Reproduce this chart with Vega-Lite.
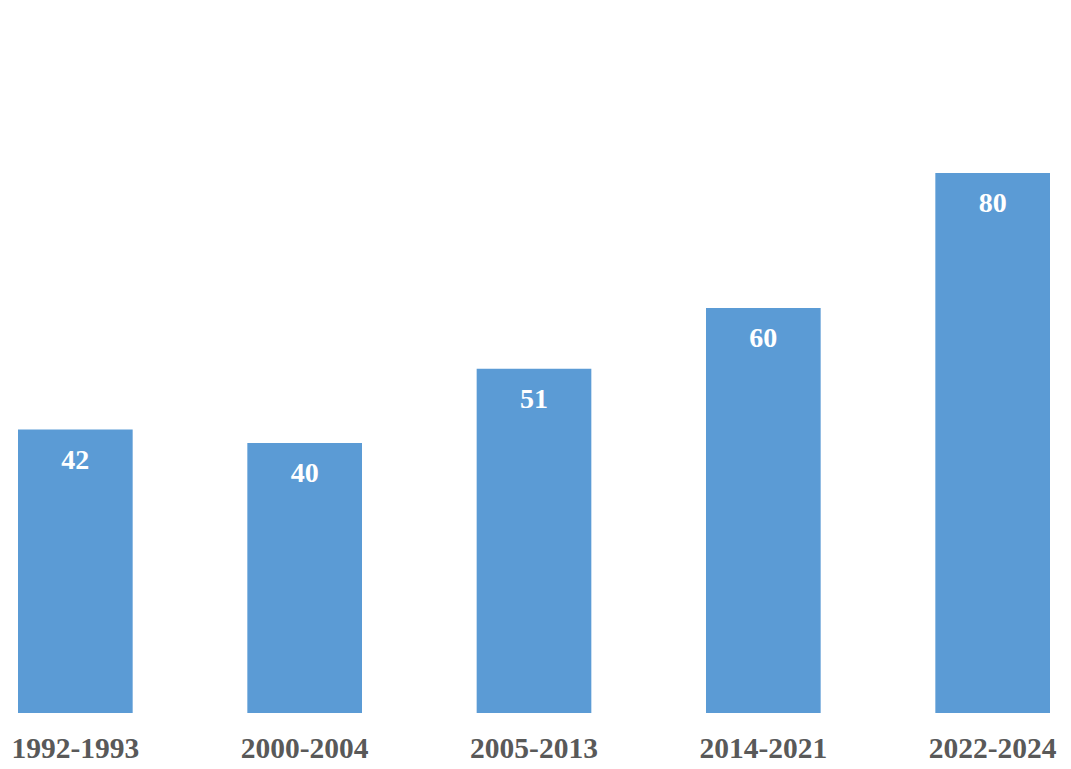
{
  "$schema": "https://vega.github.io/schema/vega-lite/v6.json",
  "autosize": "none",
  "width": 1068,
  "height": 675,
  "padding": {"left": 0, "top": 38, "right": 3, "bottom": 56},
  "background": "white",
  "config": {"view": {"stroke": null}},
  "data": {"values": [
    {"period": "1992-1993", "value": 42},
    {"period": "2000-2004", "value": 40},
    {"period": "2005-2013", "value": 51},
    {"period": "2014-2021", "value": 60},
    {"period": "2022-2024", "value": 80}
  ]},
  "encoding": {
    "x": {"field": "period", "type": "nominal", "sort": null,
      "scale": {"paddingInner": 0.5, "paddingOuter": 0.0785},
      "axis": {"title": null, "domain": false, "ticks": false, "labelAngle": 0,
        "labelFont": "Liberation Serif", "labelFontWeight": "bold", "labelFontSize": 29.5,
        "labelColor": "#595959", "labelBaseline": "alphabetic", "labelPadding": 44}},
    "y": {"field": "value", "type": "quantitative",
      "scale": {"domain": [0, 100], "nice": false},
      "axis": null}
  },
  "layer": [
    {"mark": {"type": "bar", "color": "#5B9BD5"}},
    {"mark": {"type": "text", "color": "white", "font": "Liberation Serif", "fontWeight": "bold",
      "fontSize": 28, "baseline": "alphabetic", "dy": 39},
     "encoding": {"text": {"field": "value", "type": "quantitative"}}}
  ]
}
